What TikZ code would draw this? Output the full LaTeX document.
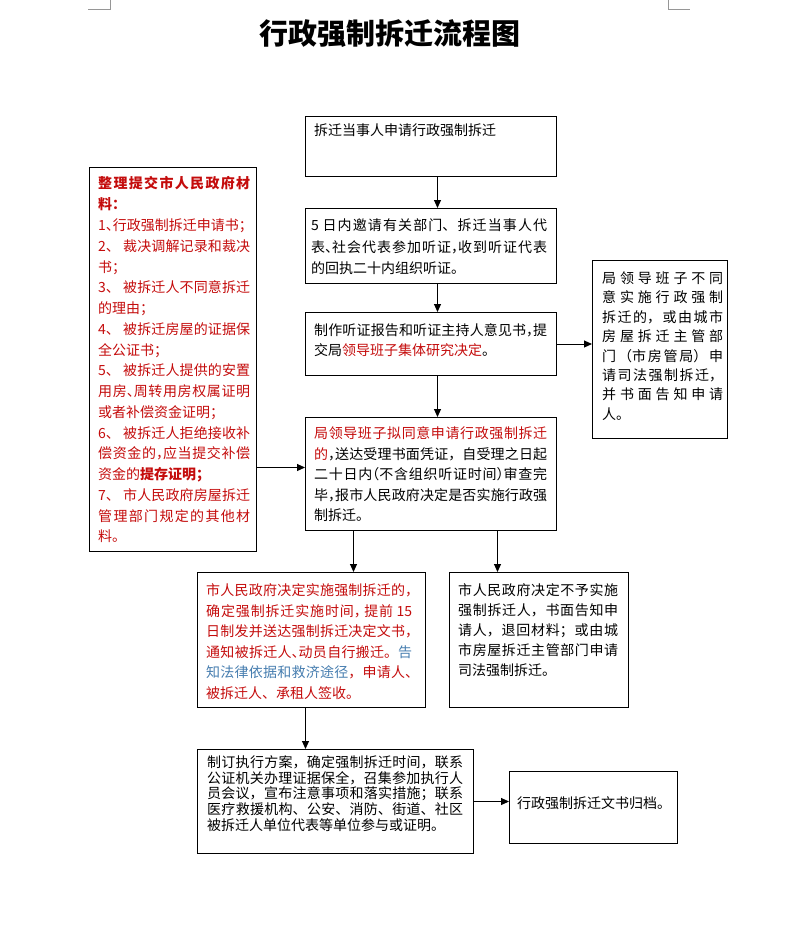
\documentclass[tikz,border=0pt]{standalone}
\usepackage{fontspec}
\setmainfont{Noto Sans CJK SC}
\usetikzlibrary{arrows.meta}
\XeTeXlinebreaklocale "zh"
\XeTeXlinebreakskip=0pt plus 4pt minus 0.8pt
\tolerance=10000
\definecolor{rtext}{RGB}{196,12,12}
\definecolor{btext}{RGB}{70,125,175}
\definecolor{markgray}{RGB}{150,150,150}
\newcommand\hl[1]{\makebox[0.5em][l]{#1}}
\newcommand\hr[1]{\makebox[0.5em][r]{#1}}
\newcommand\setfs[2]{\fontsize{#1}{#2}\selectfont}
\begin{document}
\begin{tikzpicture}[x=1pt,y=-1pt,
  box/.style={draw, line width=1pt, anchor=north west, inner sep=0pt},
  txt/.style={anchor=base west, inner sep=0pt, align=justify},
  plain/.style={anchor=base west, inner sep=0pt, font=\setfs{14}{20}},
  arr/.style={line width=1pt, -{Triangle[length=8pt,width=7pt]}}]
\useasboundingbox (0,0) rectangle (788,928);
% page corner marks
\draw[markgray, line width=0.8pt] (88,9) -- (110,9) -- (110,0);
\draw[markgray, line width=0.8pt] (668,0) -- (668,9) -- (690,9);
% title
\node[anchor=base, inner sep=0pt, font=\setfs{29}{33}\bfseries] (title) at (390,45) {行政强制拆迁流程图};
% boxes
\node[box, minimum width=251pt, minimum height=60pt] (b1) at (305,116) {};
\node[box, minimum width=251pt, minimum height=75pt] (b2) at (305,208) {};
\node[box, minimum width=251pt, minimum height=63pt] (b3) at (305,312) {};
\node[box, minimum width=251pt, minimum height=113pt] (b4) at (305,417) {};
\node[box, minimum width=167pt, minimum height=384pt] (lb) at (89,167) {};
\node[box, minimum width=135pt, minimum height=178pt] (rb) at (592,260) {};
\node[box, minimum width=228pt, minimum height=135pt] (b5l) at (197,572) {};
\node[box, minimum width=179pt, minimum height=135pt] (b5r) at (449,572) {};
\node[box, minimum width=276pt, minimum height=104pt] (b6) at (197,749) {};
\node[box, minimum width=168pt, minimum height=72pt] (b7) at (509,771) {};
% texts
\node[plain] (t1) at (314,135.5) {拆迁当事人申请行政强制拆迁};
\node[txt, text width=236pt, font=\setfs{14}{21.5}] (t2) at (311,230.5) {5 日内邀请有关部门、拆迁当事人代\linebreak 表\hl{、}社会代表参加听证\hl{，}收到听证代表\linebreak 的回执二十内组织听证。};
\node[txt, text width=233pt, font=\setfs{14}{20}] (t3) at (314,335.5) {制作听证报告和听证主持人意见书\hl{，}提\linebreak 交局{\color{rtext}领导班子集体研究决定}。};
\node[txt, text width=233pt, font=\setfs{14}{20.5}] (t4) at (314,438.5) {{\color{rtext}局领导班子拟同意申请行政强制拆迁\linebreak 的}\hl{，}送达受理书面凭证，自受理之日起\linebreak 二十日内\hr{（}不含组织听证时间\hl{）}审查完\linebreak 毕\hl{，}报市人民政府决定是否实施行政强\linebreak 制拆迁。};
\node[txt, text width=152pt, font=\setfs{14}{20.75}, text=rtext] (tl) at (98,189) {{\bfseries 整理提交市人民政府材\linebreak 料：}\\1\hl{、}行政强制拆迁申请书\hl{；}\\2、 裁决调解记录和裁决\linebreak 书；\\3、 被拆迁人不同意拆迁\linebreak 的理由；\\4、 被拆迁房屋的证据保\linebreak 全公证书；\\5、 被拆迁人提供的安置\linebreak 用房\hl{、}周转用房权属证明\linebreak 或者补偿资金证明；\\6、 被拆迁人拒绝接收补\linebreak 偿资金的\hl{，}应当提交补偿\linebreak 资金的{\bfseries 提存证明；}\\7、 市人民政府房屋拆迁\linebreak 管理部门规定的其他材\linebreak 料。};
\node[txt, text width=121pt, font=\setfs{14}{19.4}] (tr) at (602,283.5) {局领导班子不同\linebreak 意实施行政强制\linebreak 拆迁的，或由城市\linebreak 房屋拆迁主管部\linebreak 门（市房管局）申\linebreak 请司法强制拆迁，\linebreak 并书面告知申请\linebreak 人。};
\node[txt, text width=206pt, font=\setfs{14}{20.6}, text=rtext] (t5l) at (206,595.5) {市人民政府决定实施强制拆迁的\hl{，}\linebreak 确定强制拆迁实施时间\hl{，} 提前 15\linebreak 日制发并送达强制拆迁决定文书\hl{，}\linebreak 通知被拆迁人\hl{、}动员自行搬迁。{\color{btext}告\linebreak 知法律依据和救济途径}，申请人\hl{、}\linebreak 被拆迁人、承租人签收。};
\node[txt, text width=160pt, font=\setfs{14}{20}] (t5r) at (458,595.5) {市人民政府决定不予实施\linebreak 强制拆迁人，书面告知申\linebreak 请人，退回材料；或由城\linebreak 市房屋拆迁主管部门申请\linebreak 司法强制拆迁。};
\node[txt, text width=256pt, font=\setfs{14}{15.8}] (t6) at (207,767.3) {制订执行方案，确定强制拆迁时间，联系\linebreak 公证机关办理证据保全，召集参加执行人\linebreak 员会议，宣布注意事项和落实措施；联系\linebreak 医疗救援机构、公安、消防、街道、社区\linebreak 被拆迁人单位代表等单位参与或证明。};
\node[plain] (t7) at (517,808.5) {行政强制拆迁文书归档。};
% connectors
\draw[arr] ([xshift=6.5pt]b1.south) -- ([xshift=6.5pt]b2.north);
\draw[arr] ([xshift=6.5pt]b2.south) -- ([xshift=6.5pt]b3.north);
\draw[arr] ([xshift=6.5pt]b3.south) -- ([xshift=6.5pt]b4.north);
\draw[arr] (b3.east) -- (b3.east -| rb.west);
\coordinate (l4) at ([yshift=6.5pt]b4.west);
\draw[arr] (l4 -| lb.east) -- (l4);
\coordinate (s4l) at ([xshift=-77.5pt]b4.south);
\coordinate (s4r) at ([xshift=66.5pt]b4.south);
\draw[arr] (s4l) -- (s4l |- b5l.north);
\draw[arr] (s4r) -- (s4r |- b5r.north);
\coordinate (s5) at ([xshift=-6pt]b5l.south);
\draw[arr] (s5) -- (s5 |- b6.north);
\draw[arr] (b6.east) -- (b6.east -| b7.west);
\end{tikzpicture}
\end{document}
